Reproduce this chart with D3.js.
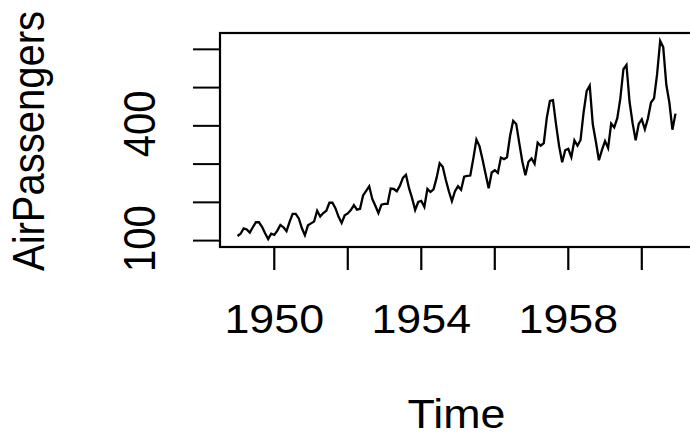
<!DOCTYPE html>
<html><head><meta charset="utf-8">
<script src="https://cdn.jsdelivr.net/npm/d3@7"></script>
<style>html,body{margin:0;padding:0;background:#fff;}</style>
</head><body>
<svg id="c" width="690" height="435"></svg>
<script>
const startYear = 1949;
const passengers = [
112,118,132,129,121,135,148,148,136,119,104,118,
115,126,141,135,125,149,170,170,158,133,114,140,
145,150,178,163,172,178,199,199,184,162,146,166,
171,180,193,181,183,218,230,242,209,191,172,194,
196,196,236,235,229,243,264,272,237,211,180,201,
204,188,235,227,234,264,302,293,259,229,203,229,
242,233,267,269,270,315,364,347,312,274,237,278,
284,277,317,313,318,374,413,405,355,306,271,306,
315,301,356,348,355,422,465,467,404,347,305,336,
340,318,362,348,363,435,491,505,404,359,310,337,
360,342,406,396,420,472,548,559,463,407,362,405,
417,391,419,461,472,535,622,606,508,461,390,432];
const xTicks = [1950,1952,1954,1956,1958,1960];
const xTickLabels = ["1950","","1954","","1958",""];
const yTicks = [100,200,300,400,500,600];
const yTickLabels = ["100","","","400","",""];
const xTitle = "Time", yTitle = "AirPassengers";

const data = passengers.map((v,i)=>({t:startYear+i/12, v}));
const svg = d3.select("#c");
const L=220,R=693,T=33,B=247;
const tExt = d3.extent(data,d=>d.t), vExt = d3.extent(data,d=>d.v);
const tPad=(tExt[1]-tExt[0])*0.04, vPad=(vExt[1]-vExt[0])*0.04;
const x = d3.scaleLinear().domain([tExt[0]-tPad,tExt[1]+tPad]).range([L,R]);
const y = d3.scaleLinear().domain([vExt[0]-vPad,vExt[1]+vPad]).range([B,T]);
const font = "'Liberation Sans', Arial, sans-serif";
const fs = 40, sx = 1.12;

svg.append("path").datum(data)
  .attr("d", d3.line().x(d=>x(d.t)).y(d=>y(d.v)))
  .attr("fill","none").attr("stroke","#000").attr("stroke-width",2.3);

svg.append("rect").attr("x",L).attr("y",T).attr("width",R-L).attr("height",B-T)
  .attr("fill","none").attr("stroke","#000").attr("stroke-width",2.2);

// x axis
const xa = svg.append("g");
xa.selectAll("line").data(xTicks).join("line")
  .attr("x1",d=>x(d)).attr("x2",d=>x(d)).attr("y1",B).attr("y2",B+23)
  .attr("stroke","#000").attr("stroke-width",2.2);
xa.selectAll("text").data(xTicks).join("text")
  .attr("transform",d=>`translate(${x(d)},333) scale(${sx},1)`)
  .attr("text-anchor","middle").attr("font-family",font).attr("font-size",fs)
  .text((d,i)=>xTickLabels[i]);

// y axis
const ya = svg.append("g");
ya.selectAll("line").data(yTicks).join("line")
  .attr("x1",L-27).attr("x2",L).attr("y1",d=>y(d)).attr("y2",d=>y(d))
  .attr("stroke","#000").attr("stroke-width",2);
ya.selectAll("text").data(yTicks).join("text")
  .attr("transform",d=>`translate(155,${y(d)-2}) scale(${sx},1) rotate(-90)`)
  .attr("text-anchor","middle").attr("font-family",font).attr("font-size",fs)
  .text((d,i)=>yTickLabels[i]);

svg.append("text").attr("transform",`translate(${(L+R)/2},428) scale(${sx},1)`)
  .attr("text-anchor","middle").attr("font-family",font).attr("font-size",fs).text(xTitle);
svg.append("text").attr("transform",`translate(44,${(T+B)/2+1}) scale(${sx},1) rotate(-90)`)
  .attr("text-anchor","middle").attr("font-family",font).attr("font-size",fs).text(yTitle);
</script>
</body></html>
